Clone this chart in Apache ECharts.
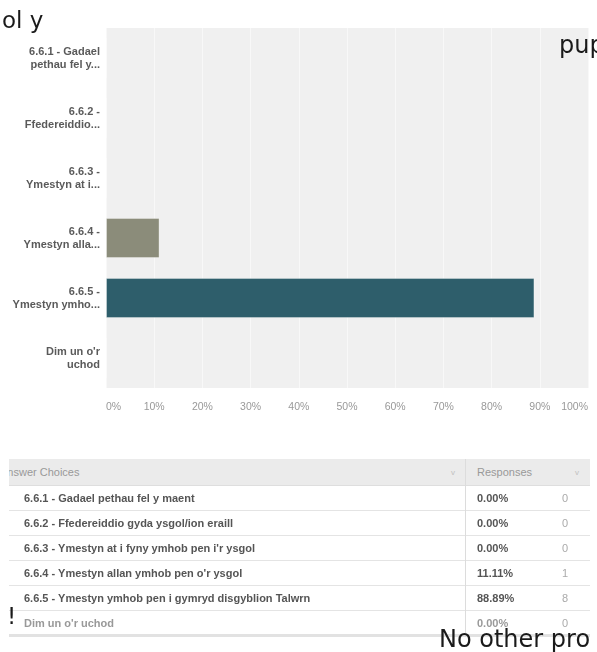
<!DOCTYPE html>
<html>
<head>
<meta charset="utf-8">
<script src="https://cdn.jsdelivr.net/npm/echarts@6/dist/echarts.min.js"></script>
<style>
  html, body { margin: 0; padding: 0; background: #fff; }
  body { width: 597px; height: 652px; overflow: hidden; position: relative; font-family: 'Liberation Sans', Arial, sans-serif; }
  #chart { position: absolute; left: 0; top: 0; width: 597px; height: 652px; }
  .overlay { position: absolute; color: #1a1a1a; white-space: nowrap; line-height: 1; font-family: 'DejaVu Sans', sans-serif; }
  #table { position: absolute; left: 9px; top: 459px; width: 581px; overflow: hidden; }
  #table .row { position: relative; height: 25px; border-bottom: 1px solid #e4e4e4; box-sizing: border-box; font-size: 11px; font-weight: bold; color: #555; }
  #table .row.head { height: 27px; background: #ebebeb; border-bottom: 1px solid #dedede; font-weight: normal; color: #999; font-size: 11px; }
  #table .row.last { color: #999; border-bottom: 3px solid #e2e2e2; height: 26px; }
  #table .row span { position: absolute; top: 50%; transform: translateY(-50%); }
  #table .divider { position: absolute; left: 456px; top: 0; bottom: 0; width: 1px; background: #dcdcdc; }
  .chev { color: #c0c0c0; font-size: 8px; }
</style>
</head>
<body>
<div id="chart"></div>
<div id="table"></div>
<div class="overlay" style="left:2px;top:9px;font-size:23px;">ol y</div>
<div class="overlay" style="left:559px;top:33px;font-size:24px;">pup</div>
<div class="overlay" style="left:7px;top:605px;font-size:23px;">!</div>
<div class="overlay" style="left:439px;top:627px;font-size:24px;">No other pro</div>
<script>
// categories shown on the axis (truncated, as in the survey export)
const axisLabels = [
  '6.6.1 - Gadael\npethau fel y...',
  '6.6.2 -\nFfedereiddio...',
  '6.6.3 -\nYmestyn at i...',
  '6.6.4 -\nYmestyn alla...',
  '6.6.5 -\nYmestyn ymho...',
  "Dim un o'r\nuchod"
]
// full answer choices for the table
const choices = [
  '6.6.1 - Gadael pethau fel y maent',
  '6.6.2 - Ffedereiddio gyda ysgol/ion eraill',
  "6.6.3 - Ymestyn at i fyny ymhob pen i'r ysgol",
  "6.6.4 - Ymestyn allan ymhob pen o'r ysgol",
  '6.6.5 - Ymestyn ymhob pen i gymryd disgyblion Talwrn',
  "Dim un o'r uchod"
]
const percents = [0, 0, 0, 11.11, 88.89, 0]
const counts = [0, 0, 0, 1, 8, 0]
const barColors = ['#8b8c7a', '#8b8c7a', '#8b8c7a', '#8b8c7a', '#2e5e6b', '#8b8c7a']
const xTicks = [0, 10, 20, 30, 40, 50, 60, 70, 80, 90, 100]

const chart = echarts.init(document.getElementById('chart'))
chart.setOption({
  animation: false,
  textStyle: { fontFamily: 'Liberation Sans, Arial, sans-serif' },
  grid: { left: 106, right: 9, top: 28, bottom: 264, show: true, backgroundColor: '#f0f0f0', borderWidth: 0 },
  xAxis: {
    type: 'value',
    min: xTicks[0],
    max: xTicks[xTicks.length - 1],
    interval: 10,
    axisLine: { show: false },
    axisTick: { show: false },
    splitLine: { lineStyle: { color: '#f8f8f8', width: 1 } },
    axisLabel: {
      formatter: '{value}%',
      color: '#999',
      fontSize: 10.5,
      margin: 14,
      alignMinLabel: 'left',
      alignMaxLabel: 'right'
    }
  },
  yAxis: {
    type: 'category',
    inverse: true,
    data: axisLabels,
    axisLine: { show: false },
    axisTick: { show: false },
    axisLabel: { color: '#5a5a5a', fontSize: 11, fontWeight: 'bold', lineHeight: 13, margin: 6 }
  },
  series: [{
    type: 'bar',
    barWidth: '67%',
    data: percents.map((v, i) => ({ value: v, itemStyle: { color: barColors[i] } })),
    itemStyle: { borderColor: 'rgba(255,255,255,0.35)', borderWidth: 1 }
  }]
})

// responses table
const table = document.getElementById('table')
let html = '<div class="row head"><span style="left:-9px">Answer Choices</span>' +
  '<span class="chev" style="left:442px">v</span>' +
  '<span style="left:468px">Responses</span>' +
  '<span class="chev" style="left:566px">v</span></div>'
choices.forEach((c, i) => {
  const cls = i === choices.length - 1 ? 'row last' : 'row'
  html += '<div class="' + cls + '"><span style="left:15px">' + c + '</span>' +
    '<span style="left:468px">' + percents[i].toFixed(2) + '%</span>' +
    '<span style="left:553px;font-weight:normal;color:#aaa">' + counts[i] + '</span></div>'
})
html += '<div class="divider"></div>'
table.innerHTML = html
</script>
</body>
</html>
